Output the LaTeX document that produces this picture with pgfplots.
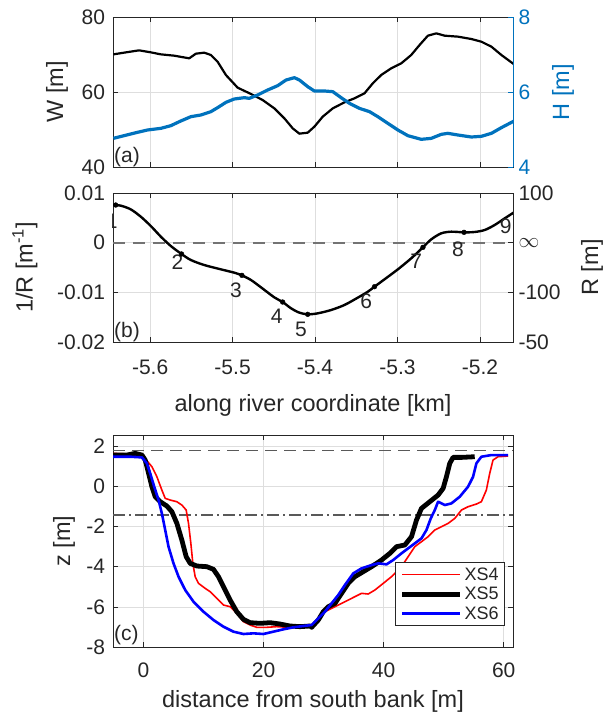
\documentclass[border=0pt]{standalone}
\usepackage{pgfplots}
\pgfplotsset{compat=1.18}
\usepackage{fontspec}
\setmainfont{Liberation Sans}
\definecolor{mblue}{RGB}{0,114,189}
\definecolor{axgray}{RGB}{38,38,38}
\pgfplotsset{
  base/.style={
    scale only axis, width=400pt,
    scaled ticks=false,
    tick align=inside, major tick length=5pt,
    axis line style={axgray, line width=0.8pt},
    every tick/.style={axgray, line width=0.6pt},
    grid=major, grid style={black!13, line width=0.6pt},
    tick label style={font=\fontsize{21}{24}\selectfont, text=axgray},
    label style={font=\fontsize{23.5}{26}\selectfont, text=axgray},
    /pgf/number format/assume math mode=true,
    xticklabel style={yshift=-14.5pt},
    ylabel style={anchor=center, rotate=0},
  },
}
\begin{document}
\begin{tikzpicture}
% ---------------- (a) left: W
\begin{axis}[base, at={(113pt,-17pt)}, anchor=north west, height=150pt,
  xmin=-5.645, xmax=-5.16, ymin=40, ymax=80,
  xtick={-5.6,-5.5,-5.4,-5.3,-5.2}, xticklabels={},
  ytick={40,60,80}, yticklabels={40,60,80}, ytick pos=left,
  yticklabel style={xshift=-4.5pt},
  ylabel={W [m]}, ylabel style={at={(axis description cs:-0.14,0.5)}}]
\addplot[black, line width=2.2pt, line join=round] coordinates {
(-5.6445,70.04) (-5.6316,70.49) (-5.6134,71.11) (-5.5992,70.58) (-5.5870,70.04) (-5.5709,69.69) (-5.5526,68.98) (-5.5445,70.22) (-5.5344,70.49) (-5.5263,69.87) (-5.5182,68.09) (-5.5081,64.53) (-5.4939,61.16) (-5.4777,59.47) (-5.4636,57.87) (-5.4494,55.64) (-5.4372,52.98) (-5.4271,50.31) (-5.4190,48.89) (-5.4089,49.16) (-5.4008,50.76) (-5.3907,53.42) (-5.3785,55.64) (-5.3644,57.24) (-5.3522,58.31) (-5.3401,59.64) (-5.3300,62.31) (-5.3198,64.53) (-5.3077,66.31) (-5.2955,67.64) (-5.2834,69.87) (-5.2733,72.53) (-5.2632,75.02) (-5.2530,75.64) (-5.2429,75.02) (-5.2267,74.76) (-5.2105,74.13) (-5.1984,73.42) (-5.1862,72.09) (-5.1741,69.87) (-5.1587,67.38)};
\node[anchor=base west, inner sep=1pt, font=\fontsize{21}{24}\selectfont, text=axgray] at (axis description cs:0,0.03) {(a)};
\end{axis}
% ---------------- (a) right: H
\begin{axis}[base, at={(113pt,-17pt)}, anchor=north west, height=150pt,
  xmin=-5.645, xmax=-5.16, ymin=4, ymax=8, grid=none,
  axis x line=none, axis y line*=right,
  y axis line style={mblue, line width=0.8pt}, ytick style={mblue},
  ytick={4,6,8}, yticklabels={4,6,8},
  yticklabel style={xshift=2pt, text=mblue},
  ylabel={H [m]}, ylabel style={at={(axis description cs:1.125,0.5)}, text=mblue, rotate=0}]
\addplot[mblue, line width=3.2pt, line join=round] coordinates {
(-5.6445,4.764) (-5.6316,4.835) (-5.6154,4.924) (-5.6032,4.987) (-5.5870,5.031) (-5.5749,5.102) (-5.5628,5.227) (-5.5506,5.342) (-5.5385,5.387) (-5.5263,5.476) (-5.5182,5.582) (-5.5081,5.724) (-5.4980,5.813) (-5.4858,5.849) (-5.4798,5.831) (-5.4696,5.920) (-5.4575,6.053) (-5.4453,6.169) (-5.4352,6.320) (-5.4251,6.382) (-5.4190,6.320) (-5.4089,6.142) (-5.4008,6.027) (-5.3887,6.027) (-5.3785,6.009) (-5.3684,5.849) (-5.3583,5.698) (-5.3462,5.564) (-5.3340,5.476) (-5.3239,5.342) (-5.3117,5.164) (-5.2996,4.987) (-5.2874,4.835) (-5.2713,4.738) (-5.2591,4.764) (-5.2470,4.871) (-5.2389,4.898) (-5.2267,4.853) (-5.2105,4.800) (-5.1984,4.818) (-5.1862,4.898) (-5.1741,5.049) (-5.1587,5.227)};
\end{axis}
% ---------------- (b) left: 1/R
\begin{axis}[base, at={(113pt,-193pt)}, anchor=north west, height=149pt,
  xmin=-5.645, xmax=-5.16, ymin=-0.02, ymax=0.01,
  xtick={-5.6,-5.5,-5.4,-5.3,-5.2}, xticklabels={-5.6,-5.5,-5.4,-5.3,-5.2},
  ytick={-0.02,-0.01,0,0.01}, yticklabels={-0.02,-0.01,0,0.01}, ytick pos=left,
  yticklabel style={xshift=-4.5pt},
  xlabel={along river coordinate [km]},
  xlabel style={at={(axis description cs:0.5,-0.425)}, anchor=center},
  ylabel={1/R [m\textsuperscript{-1}]}, ylabel style={at={(axis description cs:-0.22,0.5)}}]
\addplot[black!55, line width=1.8pt, dash pattern=on 12pt off 8pt] coordinates {(-5.645,0) (-5.16,0)};
\addplot[black, line width=2.4pt, smooth, tension=0.5] coordinates {
(-5.6445,0.00758) (-5.6356,0.00745) (-5.6235,0.00671) (-5.6113,0.00523) (-5.5992,0.00336) (-5.5870,0.00121) (-5.5749,-0.00067) (-5.5619,-0.00228) (-5.5506,-0.00349) (-5.5344,-0.00450) (-5.5142,-0.00537) (-5.4980,-0.00604) (-5.4887,-0.00658) (-5.4777,-0.00752) (-5.4656,-0.00899) (-5.4494,-0.01101) (-5.4393,-0.01195) (-5.4291,-0.01322) (-5.4190,-0.01409) (-5.4089,-0.01443) (-5.3968,-0.01423) (-5.3806,-0.01356) (-5.3644,-0.01255) (-5.3482,-0.01107) (-5.3360,-0.00987) (-5.3279,-0.00886) (-5.3158,-0.00738) (-5.2996,-0.00537) (-5.2834,-0.00315) (-5.2692,-0.00094) (-5.2591,0.00067) (-5.2470,0.00188) (-5.2348,0.00221) (-5.2194,0.00208) (-5.2065,0.00215) (-5.1943,0.00255) (-5.1822,0.00356) (-5.1700,0.00490) (-5.1587,0.00611)};
\addplot[only marks, mark=*, mark size=2.4pt, black] coordinates {
(-5.6417,0.00758) (-5.5619,-0.00228) (-5.4887,-0.00658) (-5.4393,-0.01195) (-5.4089,-0.01443) (-5.3279,-0.00886) (-5.2692,-0.00094) (-5.2194,0.00208) (-5.1587,0.00611)};
\begin{scope}[every node/.style={font=\fontsize{21}{24}\selectfont, text=axgray, inner sep=0pt}]
\node at (axis cs:-5.6466,0.00423) {1};
\node at (axis cs:-5.5668,-0.00383) {2};
\node at (axis cs:-5.4960,-0.00953) {3};
\node at (axis cs:-5.4466,-0.01477) {4};
\node at (axis cs:-5.4170,-0.01745) {5};
\node at (axis cs:-5.3381,-0.01188) {6};
\node at (axis cs:-5.2773,-0.00383) {7};
\node at (axis cs:-5.2267,-0.00134) {8};
\node at (axis cs:-5.1688,0.00322) {9};
\end{scope}
\node[anchor=base west, inner sep=1pt, font=\fontsize{21}{24}\selectfont, text=axgray] at (axis description cs:0,0.03) {(b)};
\end{axis}
% ---------------- (b) right: R
\begin{axis}[base, at={(113pt,-193pt)}, anchor=north west, height=149pt,
  xmin=-5.645, xmax=-5.16, ymin=-0.02, ymax=0.01, grid=none,
  axis x line=none, axis y line*=right,
  ytick={-0.02,-0.01,0,0.01}, yticklabels={-50,-100,$\infty$,100},
  yticklabel style={xshift=2pt},
  ylabel={R [m]}, ylabel style={at={(axis description cs:1.1975,0.5)}, rotate=0}]
\addplot[draw=none] coordinates {(-5.6,0)};
\end{axis}
% ---------------- (c)
\begin{axis}[base, at={(113pt,-435pt)}, anchor=north west, height=212pt,
  xmin=-5.09, xmax=61.55, ymin=-8, ymax=2.55,
  xtick={0,20,40,60}, xticklabels={0,20,40,60},
  xticklabel style={yshift=2pt},
  ytick={-8,-6,-4,-2,0,2}, yticklabels={-8,-6,-4,-2,0,2},
  yticklabel style={xshift=-4.5pt},
  xlabel={distance from south bank [m]},
  xlabel style={at={(axis description cs:0.5,-0.255)}, anchor=center},
  ylabel={z [m]}, ylabel style={at={(axis description cs:-0.1225,0.5)}},
  legend style={at={(0.98,0.40)}, anchor=north east, draw=axgray, line width=0.8pt,
    fill=white, font=\fontsize{18}{21}\selectfont, text=axgray,
    inner xsep=4pt, inner ysep=3pt, row sep=1.5pt,
    cells={anchor=west}},
  legend image code/.code={\draw[#1, line cap=butt] (0pt,0pt) -- (58pt,0pt);}]
\addplot[black!65, line width=1.3pt, dash pattern=on 12pt off 7pt, forget plot] coordinates {(-5.09,1.77) (61.55,1.77)};
\addplot[black!65, line width=1.3pt, dash pattern=on 12pt off 4pt on 2pt off 4pt, forget plot] coordinates {(-5.09,-1.43) (61.55,-1.43)};
\addplot[red, line width=1.6pt, line join=round] coordinates {
(-5.10,1.635) (-2.21,1.602) (-0.55,1.502) (0.56,1.270) (1.39,0.972) (2.22,0.474) (3.05,-0.189) (3.61,-0.604) (4.44,-0.687) (5.55,-0.770) (6.38,-0.935) (7.10,-1.184) (7.49,-1.847) (7.88,-2.842) (8.21,-3.837) (8.60,-4.501) (9.15,-4.832) (10.26,-5.081) (11.09,-5.247) (12.20,-5.579) (13.31,-5.910) (14.42,-5.993) (15.53,-6.325) (16.64,-6.740) (17.75,-6.906) (18.86,-7.021) (20.52,-7.021) (22.18,-6.988) (24.40,-7.021) (26.62,-6.906) (28.00,-6.988) (29.11,-6.574) (30.22,-6.242) (31.89,-5.993) (33.55,-5.745) (35.21,-5.496) (36.32,-5.330) (37.43,-5.363) (38.54,-5.164) (39.93,-4.832) (41.31,-4.501) (42.97,-4.003) (44.08,-3.506) (45.19,-3.008) (46.30,-2.760) (47.41,-2.511) (48.52,-2.179) (49.63,-2.013) (50.74,-1.847) (51.85,-1.599) (52.96,-1.184) (54.07,-1.018) (55.45,-0.886) (56.28,-0.770) (57.11,-0.189) (57.67,0.640) (58.22,1.303) (59.05,1.469) (60.72,1.502)};
\addlegendentry{XS4}
\addplot[black, line width=4.8pt, line join=round] coordinates {
(-5.10,1.552) (-2.77,1.552) (-1.38,1.635) (-0.27,1.552) (0.28,1.303) (0.84,0.640) (1.39,-0.023) (1.95,-0.521) (2.78,-0.770) (3.89,-0.985) (4.72,-1.267) (5.55,-1.847) (6.38,-2.677) (7.10,-3.506) (7.77,-3.837) (8.88,-3.970) (10.54,-4.003) (11.65,-4.136) (12.48,-4.501) (13.31,-4.998) (14.42,-5.662) (15.53,-6.242) (16.64,-6.624) (17.75,-6.790) (19.41,-6.823) (21.07,-6.790) (22.74,-6.856) (24.40,-6.955) (26.06,-6.988) (27.73,-6.955) (28.00,-7.021) (29.11,-6.657) (29.95,-6.242) (30.78,-5.993) (31.89,-5.828) (32.99,-5.330) (34.10,-4.832) (35.21,-4.501) (36.60,-4.252) (37.98,-4.003) (39.65,-3.672) (41.03,-3.340) (42.14,-3.008) (43.53,-2.925) (44.64,-2.511) (45.47,-1.682) (46.30,-1.101) (47.69,-0.770) (49.07,-0.438) (49.91,-0.106) (50.46,0.474) (51.01,1.138) (51.57,1.436) (52.96,1.436) (55.17,1.469)};
\addlegendentry{XS5}
\addplot[blue, line width=2.6pt, line join=round] coordinates {
(-5.10,1.469) (-2.21,1.469) (-0.27,1.436) (0.56,1.138) (1.11,0.640) (1.78,-0.023) (2.50,-0.687) (3.05,-1.350) (3.61,-2.179) (4.16,-3.008) (4.99,-3.837) (5.83,-4.501) (6.94,-5.164) (8.32,-5.745) (9.98,-6.242) (11.65,-6.657) (13.31,-6.988) (14.98,-7.237) (16.64,-7.353) (18.30,-7.320) (19.97,-7.353) (21.63,-7.237) (23.29,-7.121) (24.96,-7.021) (26.62,-6.955) (28.00,-6.906) (29.11,-6.574) (30.22,-6.242) (31.33,-5.828) (32.44,-5.413) (33.55,-4.915) (34.94,-4.335) (36.32,-4.086) (37.99,-3.920) (39.09,-3.837) (40.48,-3.887) (41.59,-3.672) (42.97,-3.340) (44.08,-3.091) (45.19,-2.842) (46.30,-2.594) (47.13,-2.179) (47.85,-1.599) (48.52,-1.184) (49.07,-0.770) (50.18,-0.935) (51.29,-0.852) (52.68,-0.521) (54.06,-0.023) (54.90,0.474) (55.45,1.138) (56.28,1.469) (57.94,1.552) (60.72,1.552)};
\addlegendentry{XS6}
\node[anchor=base west, inner sep=1pt, font=\fontsize{21}{24}\selectfont, text=axgray] at (axis description cs:0,0.033) {(c)};
\end{axis}
\pgfresetboundingbox
\useasboundingbox (0pt,0pt) rectangle (608pt,-715pt);
\end{tikzpicture}
\end{document}
